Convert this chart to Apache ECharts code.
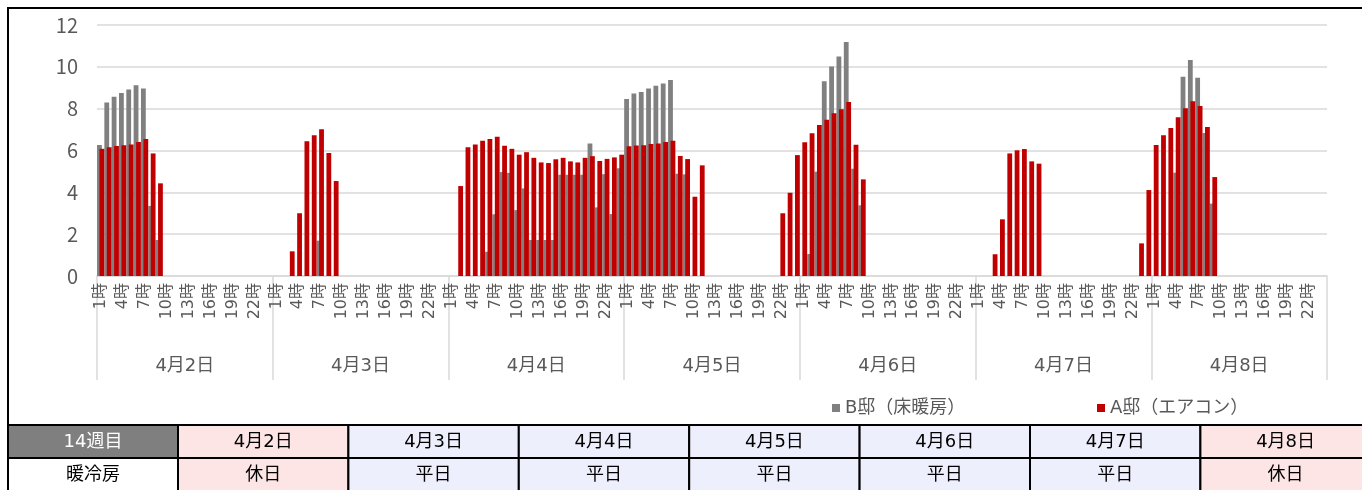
<!DOCTYPE html>
<html>
<head>
<meta charset="utf-8">
<script src="https://cdn.jsdelivr.net/npm/echarts@6/dist/echarts.min.js"></script>
<style>
  html, body { margin: 0; padding: 0; background: #fff; }
  #chart { width: 1362px; height: 490px; }
</style>
</head>
<body>
<div id="chart"></div>
<script>
const days = ['4月2日', '4月3日', '4月4日', '4月5日', '4月6日', '4月7日', '4月8日']
const dayTypes = ['休日', '平日', '平日', '平日', '平日', '平日', '休日']
const hours = [
  '1時', '2時', '3時', '4時', '5時', '6時', '7時', '8時', '9時', '10時', '11時', '12時',
  '13時', '14時', '15時', '16時', '17時', '18時', '19時', '20時', '21時', '22時', '23時', '24時',
]
const weekLabel = '14週目'
const rowLabel = '暖冷房'
const nameB = 'B邸（床暖房）'
const nameA = 'A邸（エアコン）'

// B邸（床暖房） hourly, one line per day
const houseB = [
  6.26, 8.29, 8.57, 8.75, 8.92, 9.12, 8.96, 3.35, 1.72, 0, 0, 0, 0, 0, 0, 0, 0, 0, 0, 0, 0, 0, 0, 0,
  0, 0, 0, 0, 0, 0, 1.69, 0, 0, 0, 0, 0, 0, 0, 0, 0, 0, 0, 0, 0, 0, 0, 0, 0,
  0, 0, 0, 0, 0, 1.16, 2.95, 4.97, 4.93, 3.15, 4.19, 1.72, 1.72, 1.72, 1.72, 4.84, 4.84, 4.84, 4.84, 6.33, 3.28, 4.87, 2.96, 5.15,
  8.46, 8.73, 8.8, 8.97, 9.1, 9.2, 9.37, 4.89, 4.86, 0, 0, 0, 0, 0, 0, 0, 0, 0, 0, 0, 0, 0, 0, 0,
  0, 1.05, 4.99, 9.31, 10.02, 10.49, 11.19, 5.13, 3.38, 0, 0, 0, 0, 0, 0, 0, 0, 0, 0, 0, 0, 0, 0, 0,
  0, 0, 0, 0, 0, 0, 0, 0, 0, 0, 0, 0, 0, 0, 0, 0, 0, 0, 0, 0, 0, 0, 0, 0,
  0, 0, 0, 4.94, 9.53, 10.33, 9.48, 6.84, 3.46, 0, 0, 0, 0, 0, 0, 0, 0, 0, 0, 0, 0, 0, 0, 0,
]

// A邸（エアコン） hourly, one line per day
const houseA = [
  6.08, 6.15, 6.22, 6.25, 6.29, 6.41, 6.55, 5.86, 4.43, 0, 0, 0, 0, 0, 0, 0, 0, 0, 0, 0, 0, 0, 0, 0,
  0, 0, 1.18, 3.0, 6.44, 6.73, 7.01, 5.88, 4.54, 0, 0, 0, 0, 0, 0, 0, 0, 0, 0, 0, 0, 0, 0, 0,
  0, 4.3, 6.16, 6.29, 6.47, 6.55, 6.66, 6.23, 6.08, 5.8, 5.92, 5.65, 5.43, 5.4, 5.58, 5.65, 5.48, 5.43, 5.65, 5.73, 5.5, 5.6, 5.67, 5.8,
  6.2, 6.24, 6.25, 6.31, 6.34, 6.41, 6.47, 5.74, 5.59, 3.79, 5.29, 0, 0, 0, 0, 0, 0, 0, 0, 0, 0, 3.0, 3.98, 5.78,
  6.39, 6.82, 7.22, 7.47, 7.78, 7.97, 8.32, 6.28, 4.62, 0, 0, 0, 0, 0, 0, 0, 0, 0, 0, 0, 0, 0, 0, 0,
  0, 0, 1.04, 2.71, 5.86, 6.01, 6.07, 5.48, 5.37, 0, 0, 0, 0, 0, 0, 0, 0, 0, 0, 0, 0, 0, 1.56, 4.11,
  6.26, 6.73, 7.08, 7.59, 8.02, 8.35, 8.13, 7.12, 4.73, 0, 0, 0, 0, 0, 0, 0, 0, 0, 0, 0, 0, 0, 0, 0,
]

const categories = days.flatMap((d) => hours.map((h) => d + ' ' + h))

// DejaVu gives the wide digits, CJK glyphs fall back to Noto
const fontFamily = "'DejaVu Sans', 'Noto Sans CJK JP', sans-serif"
const thinFont = "'Noto Sans CJK JP', sans-serif"
const axisGrey = '#595959'
const lineGrey = '#d9d9d9'

// table below the chart
function buildTable() {
  const top = 425
  const rowH = 33
  const firstW = 170
  const colW = 170.4
  const x0 = 8
  const out = []
  const cell = (x, y, w, fill, text, color) => {
    out.push({
      type: 'rect',
      shape: { x: x, y: y, width: w, height: rowH },
      style: { fill: fill, stroke: '#000', lineWidth: 2 },
    })
    out.push({
      type: 'text',
      x: x + w / 2,
      y: y + rowH / 2 + 1,
      style: {
        text: text,
        fill: color,
        font: '18px ' + fontFamily,
        align: 'center',
        verticalAlign: 'middle',
      },
    })
  }
  cell(x0, top, firstW, '#7f7f7f', weekLabel, '#fff')
  cell(x0, top + rowH, firstW, '#fff', rowLabel, '#000')
  days.forEach((d, i) => {
    const x = x0 + firstW + i * colW
    const fill = dayTypes[i] === '休日' ? '#fde5e5' : '#eeeffd'
    cell(x, top, colW, fill, d, '#000')
    cell(x, top + rowH, colW, fill, dayTypes[i], '#000')
  })
  // chart frame
  out.push({
    type: 'rect',
    shape: { x: 8, y: 8, width: 1400, height: 600 },
    style: { fill: 'none', stroke: '#000', lineWidth: 2 },
    z: 10,
  })
  return out
}

const legendBase = {
  icon: 'rect',
  itemWidth: 8,
  itemHeight: 8,
  padding: 0,
  top: 399,
  textStyle: { color: axisGrey, fontSize: 18, fontFamily: fontFamily },
}

const chart = echarts.init(document.getElementById('chart'))
chart.setOption({
  animation: false,
  textStyle: { fontFamily: fontFamily },
  grid: { left: 97, right: 35, top: 25, bottom: 214, containLabel: false, outerBoundsMode: 'none' },
  legend: [
    Object.assign({}, legendBase, { data: [nameB], left: 832 }),
    Object.assign({}, legendBase, { data: [nameA], left: 1097 }),
  ],
  xAxis: [
    {
      type: 'category',
      data: categories,
      axisLine: { lineStyle: { color: lineGrey, width: 1.5 } },
      axisTick: { show: false },
      axisLabel: {
        interval: 2,
        rotate: 90,
        margin: 7,
        fontSize: 16,
        color: axisGrey,
        fontFamily: fontFamily,
        formatter: (v) => v.split(' ')[1],
      },
    },
    {
      type: 'category',
      data: days,
      position: 'bottom',
      offset: 0,
      axisLine: { show: false },
      axisTick: { show: true, length: 104, lineStyle: { color: lineGrey, width: 1.5 } },
      axisLabel: { margin: 81, fontSize: 18, color: axisGrey, fontFamily: fontFamily },
    },
  ],
  yAxis: {
    type: 'value',
    min: 0,
    max: 12,
    interval: 2,
    axisLine: { show: false },
    axisTick: { show: false },
    axisLabel: { fontSize: 20, color: axisGrey, margin: 19, fontFamily: thinFont },
    splitLine: { lineStyle: { color: lineGrey, width: 1.5 } },
  },
  series: [
    {
      name: nameB,
      type: 'bar',
      data: houseB,
      barWidth: 4.8,
      barGap: '-49%',
      itemStyle: { color: '#808080' },
    },
    {
      name: nameA,
      type: 'bar',
      data: houseA,
      barWidth: 4.8,
      barGap: '-49%',
      itemStyle: { color: '#c00000' },
    },
  ],
  graphic: buildTable(),
})
</script>
</body>
</html>
